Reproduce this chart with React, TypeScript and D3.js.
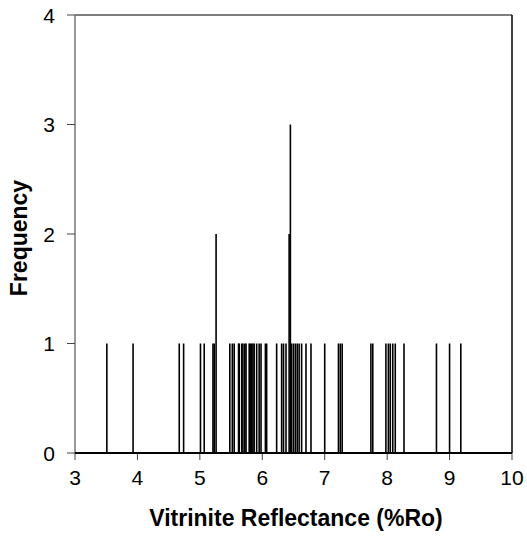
import React, { useEffect, useRef } from "react";
import * as d3 from "d3";

// individual vitrinite reflectance readings (%Ro)
const readings = [
  3.51, 3.93, 4.67, 4.74, 5.01, 5.07, 5.21, 5.23, 5.26, 5.26, 5.48, 5.52, 5.55,
  5.62, 5.63, 5.67, 5.69, 5.72, 5.74, 5.79, 5.81, 5.83, 5.85, 5.87, 5.91, 5.95,
  5.98, 6.05, 6.07, 6.23, 6.31, 6.34, 6.38, 6.43, 6.43, 6.45, 6.45, 6.45, 6.47,
  6.5, 6.53, 6.56, 6.59, 6.63, 6.7, 6.78, 7.0, 7.22, 7.25, 7.28, 7.74, 7.77,
  7.98, 8.02, 8.05, 8.09, 8.13, 8.27, 8.79, 9.0, 9.18,
];
const xTicks = [3, 4, 5, 6, 7, 8, 9, 10];
const yTicks = [0, 1, 2, 3, 4];

const W = 527;
const H = 538;

export default function App() {
  const ref = useRef<SVGSVGElement>(null);

  useEffect(() => {
    const svg = d3.select(ref.current);
    svg.selectAll("*").remove();
    const left = 75, right = 512, top = 15, bottom = 453;
    const x = d3.scaleLinear().domain([3, 10]).range([left, right]);
    const y = d3.scaleLinear().domain([0, 4]).range([bottom, top]);
    const font = "Arial, 'Liberation Sans', sans-serif";

    // counts per 0.01 bin
    const counts = Array.from(
      d3.rollup(readings, (v) => v.length, (d) => Math.round(d * 100) / 100),
      ([value, n]) => ({ value, n })
    );

    // plot border
    svg.append("line").attr("x1", left).attr("x2", right).attr("y1", top).attr("y2", top)
      .attr("stroke", "#555").attr("stroke-width", 1.5);
    svg.append("line").attr("x1", right).attr("x2", right).attr("y1", top).attr("y2", bottom)
      .attr("stroke", "#000").attr("stroke-width", 1.5);

    svg.append("g")
      .selectAll("line")
      .data(counts)
      .enter()
      .append("line")
      .attr("x1", (d) => x(d.value))
      .attr("x2", (d) => x(d.value))
      .attr("y1", y(0))
      .attr("y2", (d) => y(d.n))
      .attr("stroke", "#000")
      .attr("stroke-width", 1.6);

    // y axis
    svg.append("line").attr("x1", left).attr("x2", left).attr("y1", top).attr("y2", bottom)
      .attr("stroke", "#777").attr("stroke-width", 1.5);
    const gy = svg.append("g");
    yTicks.forEach((t) => {
      gy.append("line").attr("x1", left - 8).attr("x2", left).attr("y1", y(t)).attr("y2", y(t))
        .attr("stroke", "#444").attr("stroke-width", 1);
      gy.append("text").attr("x", 55).attr("y", y(t)).attr("dy", "0.36em")
        .attr("text-anchor", "end").attr("font-family", font).attr("font-size", 21)
        .text(t);
    });

    // x axis
    const gx = svg.append("g");
    xTicks.forEach((t) => {
      gx.append("line").attr("x1", x(t)).attr("x2", x(t)).attr("y1", bottom).attr("y2", bottom + 7)
        .attr("stroke", "#444").attr("stroke-width", 1);
      gx.append("text").attr("x", x(t)).attr("y", 477).attr("dy", "0.36em")
        .attr("text-anchor", "middle").attr("font-family", font).attr("font-size", 21)
        .text(t);
    });
    svg.append("line").attr("x1", left).attr("x2", right).attr("y1", bottom).attr("y2", bottom)
      .attr("stroke", "#000").attr("stroke-width", 2);

    svg.append("text").attr("x", 296).attr("y", 518).attr("dy", "0.36em")
      .attr("text-anchor", "middle").attr("font-family", font).attr("font-size", 23)
      .attr("font-weight", "bold").text("Vitrinite Reflectance (%Ro)");
    svg.append("text")
      .attr("transform", `translate(19,238) rotate(-90)`)
      .attr("dy", "0.36em").attr("text-anchor", "middle").attr("font-family", font)
      .attr("font-size", 23).attr("font-weight", "bold").text("Frequency");
  }, []);

  return (
    <svg ref={ref} width={W} height={H}
      style={{ position: "absolute", left: 0, top: 0, background: "#fff" }} />
  );
}
